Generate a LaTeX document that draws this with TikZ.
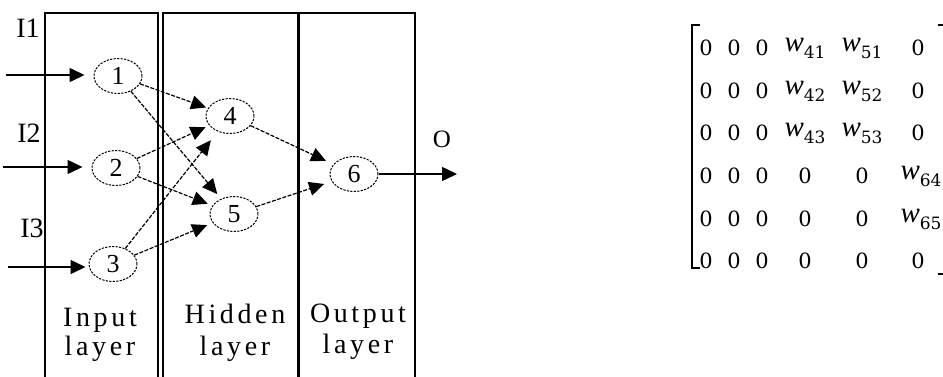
\documentclass[tikz,border=0pt]{standalone}
\usepackage{fontspec}
\setmainfont{Liberation Serif}
\newfontfamily\matfont{DejaVu Serif}
\usetikzlibrary{arrows.meta,shapes.geometric}
\newcommand\wsub[1]{{\rmfamily\fontsize{29}{29}\selectfont\textit{w}}\raisebox{-7pt}{\matfont\fontsize{17}{17}\selectfont #1}}
\begin{document}
\begin{tikzpicture}[x=1pt,y=-1pt,
  neuron/.style={draw, ellipse, dash pattern=on 2.2pt off 1.3pt, line width=1pt,
    minimum width=48pt, minimum height=35pt, inner sep=0pt,
    font=\fontsize{26}{26}\selectfont},
  edge/.style={dash pattern=on 4pt off 1.5pt, line width=1.2pt,
    -{Triangle[length=15pt,width=14pt]}, shorten >=2pt},
  inarrow/.style={line width=1.5pt, -{Triangle[length=15pt,width=14pt]}},
  boxline/.style={line width=1.9pt},
  lbl/.style={font=\fontsize{28}{28}\selectfont, inner sep=0pt},
  laylbl/.style={font=\fontsize{28}{28}\selectfont\addfontfeatures{LetterSpace=13}, inner sep=0pt, anchor=base},
  mat/.style={font=\matfont\fontsize{21}{21}\selectfont, inner sep=0pt}
]
\useasboundingbox (0,0) rectangle (943,376);
\clip (0,0) rectangle (943,376);
\fill[white] (0,0) rectangle (943,376);

% layer boxes
\draw[boxline] (45,385) -- (45,13) -- (158,13) -- (158,385);
\draw[boxline] (163,385) -- (163,13) -- (297,13);
\draw[line width=3pt] (298.5,12) -- (298.5,385);
\draw[boxline] (300,13) -- (415,13) -- (415,385);

% neurons
\node[neuron] (n1) at (118,76) {1};
\node[neuron] (n2) at (116,168) {2};
\node[neuron] (n3) at (113,264) {3};
\node[neuron] (n4) at (230,116) {4};
\node[neuron] (n5) at (234,214) {5};
\node[neuron] (n6) at (354,174) {6};

% inputs
\coordinate (i1) at (6,75);
\coordinate (i2) at (3,167);
\coordinate (i3) at (8,267);
\coordinate (o) at (457,174);
\draw[inarrow, shorten >=9pt] (i1) -- (i1 -| n1.west);
\draw[inarrow, shorten >=9pt] (i2) -- (i2 -| n2.west);
\draw[inarrow, shorten >=3pt] (i3) -- (i3 -| n3.west);
\draw[inarrow] (n6.east) -- (o);

% connections
\draw[edge] (n1) -- (n4);
\draw[edge, shorten >=6pt] (n1) -- (n5);
\draw[edge, shorten >=4pt] (n2) -- (n4);
\draw[edge, shorten >=5pt] (n2) -- (n5);
\draw[edge, shorten >=11pt] (n3) -- (n4);
\draw[edge, shorten >=6pt] (n3) -- (n5);
\draw[edge, shorten >=8pt] (n4) -- (n6);
\draw[edge, shorten >=8pt] (n5) -- (n6);

% labels
\node[lbl] (l1) at (28,28) {I1};
\node[lbl] (l2) at (29,133) {I2};
\node[lbl] (l3) at (32,228) {I3};
\node[font=\fontsize{25}{25}\selectfont, inner sep=0pt] (lo) at (442,139) {O};

\node[laylbl] (a1) at (100,326) {Input};
\node[laylbl] (a2) at (100,355) {layer};
\node[laylbl] (b1) at (235,323) {Hidden};
\node[laylbl] (b2) at (235,355) {layer};
\node[laylbl] (c1) at (358,322) {Output};
\node[laylbl] (c2) at (358,353) {layer};

% matrix brackets
\draw[line width=2pt] (700,25) -- (692,25) -- (692,268) -- (700,268);
\draw[line width=2pt] (938,25) -- (946,25) -- (946,274) -- (938,274);

% matrix entries
\foreach \r/\y in {1/48,2/91,3/133,4/176,5/219,6/261}{
  \node[mat] (m\r a) at (706,\y) {0};
  \node[mat] (m\r b) at (734,\y) {0};
  \node[mat] (m\r c) at (762,\y) {0};
}
\node[mat] (m1d) at (805,48) {\wsub{41}};
\node[mat] (m2d) at (805,91) {\wsub{42}};
\node[mat] (m3d) at (805,133) {\wsub{43}};
\node[mat] (m4d) at (805,176) {0};
\node[mat] (m5d) at (805,219) {0};
\node[mat] (m6d) at (805,261) {0};
\node[mat] (m1e) at (862,48) {\wsub{51}};
\node[mat] (m2e) at (862,91) {\wsub{52}};
\node[mat] (m3e) at (862,133) {\wsub{53}};
\node[mat] (m4e) at (862,176) {0};
\node[mat] (m5e) at (862,219) {0};
\node[mat] (m6e) at (862,261) {0};
\node[mat] (m1f) at (918,48) {0};
\node[mat] (m2f) at (918,91) {0};
\node[mat] (m3f) at (918,133) {0};
\node[mat] (m4f) at (921,176) {\wsub{64}};
\node[mat] (m5f) at (921,219) {\wsub{65}};
\node[mat] (m6f) at (918,261) {0};
\end{tikzpicture}
\end{document}
